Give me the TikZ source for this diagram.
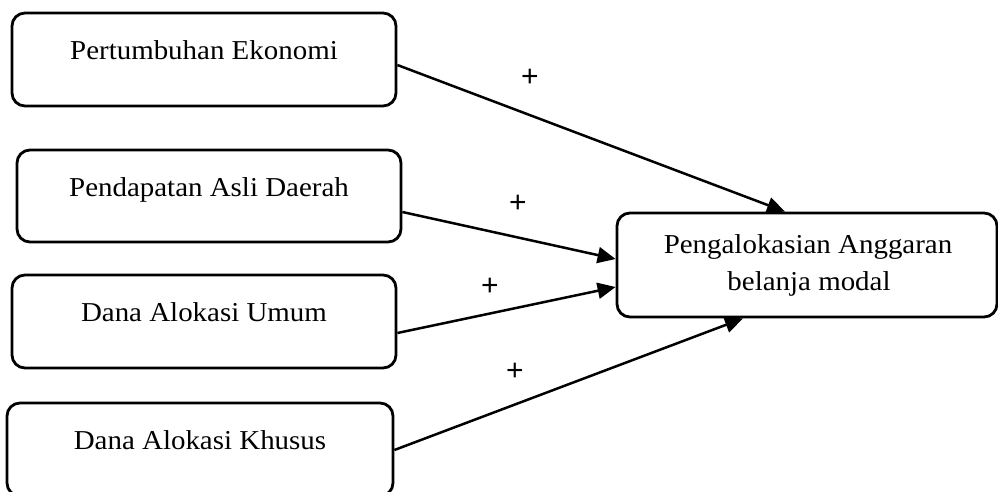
\documentclass[tikz,border=0pt]{standalone}
\usepackage{fontspec}
\setmainfont{Liberation Serif}[FakeStretch=1.06]
\newfontfamily\plusfont{Liberation Sans}
\usetikzlibrary{arrows.meta,calc}
\begin{document}
\begin{tikzpicture}[x=1pt,y=-1pt,
  box/.style={draw, line width=2.8pt, rounded corners=13pt, minimum width=384pt, minimum height=93pt, inner sep=0pt,
    text height=10pt, text depth=10pt, font=\fontsize{27.3}{36}\selectfont},
  txt/.style={anchor=base, font=\fontsize{27.3}{36}\selectfont, inner sep=0pt},
  arr/.style={line width=2.5pt, -{Triangle[length=18pt,width=16pt]}},
  plus/.style={font=\plusfont\fontsize{30}{30}\selectfont, inner sep=0pt}]
\useasboundingbox (0,0) rectangle (998,491);
\node[box] (pe) at (204,59.5) {Pertumbuhan Ekonomi};
\node[box, minimum height=92pt] (pad) at (209,196) {Pendapatan Asli Daerah};
\node[box] (dau) at (204,321.5) {Dana Alokasi Umum};
\node[box, minimum width=386pt] (dak) at (200,449.5) {Dana Alokasi Khusus};
\node[box, minimum width=380pt, minimum height=104pt] (pk) at (807,265) {};
\node[txt] (pk1) at (808,253) {Pengalokasian Anggaran};
\node[txt] (pk2) at (809,290) {belanja modal};
\draw[arr] ($(pe.east)+(0,5.5)$) -- ($(pk.north)+(-22,0)$);
\draw[arr] ($(pad.east)+(0,16)$) -- ($(pk.west)+(0,-6)$);
\draw[arr] ($(dau.east)+(0,11.5)$) -- ($(pk.west)+(0,22)$);
\draw[arr] ($(dak.east)+(0,0.5)$) -- ($(pk.south)+(-64,0)$);
\node[plus] (p1) at (530,78) {+};
\node[plus] (p2) at (518,204) {+};
\node[plus] (p3) at (490,287) {+};
\node[plus] (p4) at (515,372) {+};
\end{tikzpicture}
\end{document}
